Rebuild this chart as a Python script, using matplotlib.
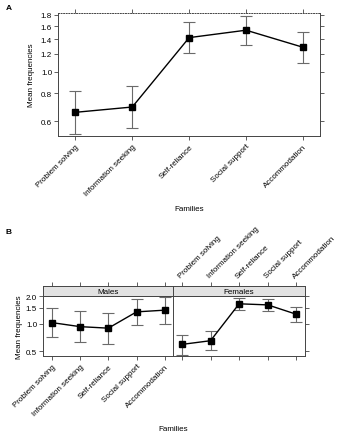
import numpy as np
import matplotlib
matplotlib.use("Agg")
from matplotlib import pyplot as plt
from matplotlib.ticker import FixedLocator, NullLocator, NullFormatter

plt.rcParams['font.family'] = ['Liberation Sans', 'DejaVu Sans']
plt.rcParams['font.size'] = 5.8

families = ["Problem solving", "Information seeking", "Self-reliance",
            "Social support", "Accommodation"]

# panel A: all subjects
meanA = [0.658, 0.695, 1.42, 1.533, 1.286]
lowA = [0.528, 0.558, 1.208, 1.32, 1.09]
highA = [0.817, 0.861, 1.665, 1.771, 1.51]

# panel B: by sex
meanM = [1.03, 0.93, 0.895, 1.35, 1.41]
lowM = [0.708, 0.624, 0.594, 0.966, 1.0]
highM = [1.50, 1.39, 1.32, 1.89, 1.95]

meanF = [0.594, 0.652, 1.655, 1.61, 1.27]
lowF = [0.46, 0.51, 1.40, 1.37, 1.05]
highF = [0.758, 0.839, 1.93, 1.88, 1.52]

W, H = 340, 435
fig = plt.figure(figsize=(W / 100, H / 100), dpi=100)

def box(l, t, r, b):
    return [l / W, 1 - b / H, (r - l) / W, (b - t) / H]

edge = '#444444'
ecol = '#6a6a6a'

def style(ax):
    for s in ax.spines.values():
        s.set_color(edge)
        s.set_linewidth(0.7)
    ax.tick_params(direction='out', length=3, width=0.6, color=edge, pad=1.5)

def draw(ax, mean, low, high, ms):
    x = np.arange(1, len(mean) + 1)
    m = np.array(mean)
    yerr = [m - np.array(low), np.array(high) - m]
    ax.errorbar(x, m, yerr=yerr, fmt='none', ecolor=ecol, elinewidth=0.8,
                capsize=4.3, capthick=0.8, zorder=2)
    ax.plot(x, m, color='black', lw=1.0, marker='s', ms=ms, zorder=3)
    ax.set_yscale('log')
    ax.set_xlim(0.7, 5.3)
    ax.yaxis.set_minor_locator(NullLocator())
    ax.yaxis.set_minor_formatter(NullFormatter())

# ---- panel A
axA = fig.add_axes(box(58.3, 14, 320, 137.3))
draw(axA, meanA, lowA, highA, 4.5)
axA.set_ylim(0.514, 1.83)
yt = [0.6, 0.8, 1.0, 1.2, 1.4, 1.6, 1.8]
axA.yaxis.set_major_locator(FixedLocator(yt))
axA.set_yticklabels(["%.1f" % v for v in yt])
axA.set_xticks(range(1, 6))
axA.set_xticklabels(families, rotation=45, ha='right', rotation_mode='anchor')
axA.tick_params(top=True, right=True, labeltop=False, labelright=False)
style(axA)
axA.spines['top'].set_linestyle(':')
axA.set_ylabel("Mean frequencies", labelpad=4)
axA.set_xlabel("Families", labelpad=6)
fig.text(6 / W, 1 - 8 / H, "A", fontsize=6, fontweight='bold', va='center')

# ---- panel B
top_b, strip_b, bot_b = 286.7, 297.3, 357.3
panels = [("Males", 43.3, 173.3, meanM, lowM, highM),
          ("Females", 173.3, 305, meanF, lowF, highF)]
yt2 = [0.5, 1.0, 1.5, 2.0]
for i, (name, l, r, mean, low, high) in enumerate(panels):
    ax = fig.add_axes(box(l, strip_b, r, bot_b))
    draw(ax, mean, low, high, 5)
    ax.set_ylim(0.44, 2.0)
    ax.yaxis.set_major_locator(FixedLocator(yt2))
    ax.set_yticklabels(["%.1f" % v for v in yt2])
    ax.set_xticks(range(1, 6))
    style(ax)
    if i == 0:
        ax.set_xticklabels(families, rotation=45, ha='right', rotation_mode='anchor')
        ax.tick_params(left=True, labelleft=True, right=False)
        ax.set_ylabel("Mean frequencies", labelpad=2)
    else:
        ax.set_xticklabels([])
        ax.tick_params(left=False, labelleft=False, right=True)
    # strip
    st = fig.add_axes(box(l, top_b, r, strip_b))
    st.set_xlim(0.7, 5.3)
    st.set_ylim(0, 1)
    st.set_facecolor('#e2e2e2')
    st.set_yticks([])
    st.set_xticks(range(1, 6))
    st.tick_params(bottom=False, labelbottom=False, top=True)
    style(st)
    if i == 1:
        st.set_xticklabels(families, rotation=45, ha='left', rotation_mode='anchor')
        st.tick_params(labeltop=True)
    else:
        st.tick_params(labeltop=False)
    st.text(0.5, 0.45, name, transform=st.transAxes, ha='center', va='center')

fig.text(173 / W, 1 - 430 / H, "Families", ha='center', va='center')
fig.text(6 / W, 1 - 233 / H, "B", fontsize=6, fontweight='bold', va='center')

fig.savefig("out.png", dpi=100)
